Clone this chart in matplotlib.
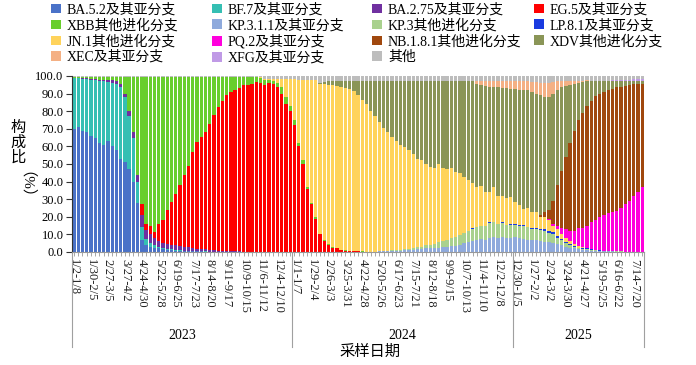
import numpy as np
import matplotlib
matplotlib.use("Agg")
from matplotlib import pyplot as plt
from matplotlib.patches import Patch
import matplotlib.transforms as mtransforms

plt.rcParams['font.family'] = ['Liberation Serif', 'Noto Sans CJK SC', 'DejaVu Sans']

# weekly composition (%), 2023-01-02 .. 2025-08-03, one value per week
ba52 = [70, 71, 69, 68, 66, 65, 62, 61, 63, 60, 58, 53, 51, 47, 40, 28, 7, 4, 3, 2.5,
        2, 1.5, 1.2, 1, 0.8, 0.6, 0.5, 0.4, 0.3, 0.3, 0.3, 0.2, 0.2, 0.1] + [0] * 101
bf7 = [28.7, 27.7, 29.5, 30.2, 31.9, 32.7, 35.2, 36, 33.8, 36.3, 37.5, 41, 37, 30.5, 24.5, 12,
       7, 3.5, 2, 1.5, 1, 0.8, 0.6, 0.5, 0.4, 0.3, 0.3, 0.2, 0.2, 0.1, 0.1, 0.1] + [0] * 103
ba275 = [0.3, 0.3, 0.5, 0.6, 0.6, 0.8, 0.8, 1, 1, 1.2, 1.5, 1.5, 2, 2.5, 3.5, 4, 7, 5, 5, 4,
         3, 3, 3, 2.5, 2.5, 2.5, 2.2, 2, 1.8, 1.5, 1.3, 1.2, 1, 0.8, 0.7, 0.6, 0.5, 0.4, 0.3, 0.3,
         0.2, 0.2, 0.2, 0.1, 0.1, 0.1, 0.1, 0.1, 0.1, 0.1] + [0] * 85
eg5 = [0] * 16 + [6, 3.5, 4.5, 3.5, 10, 12.7, 19.2, 24.4, 29.3, 34.6, 40.5, 46.4, 54.7, 60.6,
                  63.5, 66.5, 71.8, 76.7, 81.7, 85.4, 88.5, 90.6, 91.7, 92.7, 94.5, 94.8, 95.3,
                  96.5, 95.9, 94.9, 95.9, 95.5, 93.9, 89.9, 84, 80, 72, 60, 50, 36, 27, 19, 10,
                  6.5, 4, 2.5, 2, 1.2, 0.8, 0.5, 0.4, 0.3, 0.2] + [0] * 66
xbb = [0.2, 0.2, 0.2, 0.4, 0.7, 0.7, 1.2, 1.2, 1.4, 1.7, 2.2, 3.7, 9.2, 19.2, 31.2, 55.2,
       72.2, 83.2, 84.7, 87.7, 83.2, 81.2, 75.2, 70.8, 66.2, 61.2, 55.7, 50.2, 42.2, 36.7, 34,
       31.2, 26.2, 21.6, 16.8, 13.2, 10.2, 8.2, 7.2, 6.2, 4.5, 4.2, 3.7, 2.6, 2.9, 3, 1.5, 1.4,
       2, 4, 4, 3, 3, 2, 2, 1, 0.8, 0.6, 0.5, 0.4, 0.3, 0.3, 0.2, 0.2, 0.2, 0.2, 0.1, 0.1, 0.1,
       0.1, 0.1] + [0] * 64
kp311 = [0] * 71 + [0.2, 0.3, 0.4, 0.5, 0.6, 0.7, 0.8, 0.9, 1, 1.2, 1.5, 1.5, 2, 2, 2.2, 2.5,
                    3, 3, 3.5, 3.5, 4, 5, 5.5, 6, 7, 7.5, 7, 8, 8.5, 8, 8.5, 8, 8, 8.5, 8,
                    7.5, 7, 6.8, 6.6, 6.5, 5.8, 5.5, 5, 4.5, 3.8, 3, 2.2, 2, 1.5, 1.2, 1, 0.8,
                    0.6, 0.5, 0.4, 0.3, 0.3, 0.2, 0.2, 0.2, 0.1, 0.1, 0.1, 0.1]
kp3 = [0] * 73 + [0.2, 0.3, 0.4, 0.5, 0.6, 0.7, 0.8, 1, 1.2, 1.5, 1.8, 2, 2.5, 3, 3.5, 4, 4.5,
                  5, 5.5, 6, 6.5, 7, 7, 7.5, 8, 8.5, 8.5, 8, 8, 7.5, 7.5, 7, 7,
                  7.5, 7, 6.2, 6.4, 6, 6.2, 5.5, 5, 3.5, 2.8, 2, 1.8, 1, 0.7, 0.6, 0.5, 0.4,
                  0.3, 0.2, 0.2, 0.1, 0.1, 0.1, 0.1, 0, 0, 0, 0, 0]
lp81 = [0] * 94 + [0.5, 0, 0, 0, 0.5, 0, 0, 0.3, 0, 0.3, 0.4, 0.6,
                   0.5, 0.3, 0.8, 0.8, 0.3, 0.8, 0.8, 1.5, 1, 0.8, 0.5, 0.4, 0.3, 0.3, 0.3, 0.5,
                   0.3, 0.2, 0.2, 0.1, 0.1, 0.1, 0, 0, 0, 0, 0, 0, 0]
jn1 = [0] * 44 + [0.3, 0.5, 1, 1.5, 2.3, 4.3, 10.3, 15.3, 23.3,
                  36, 45.5, 60.5, 69.7, 77.9, 85, 88.6, 90.7, 92.2, 92.3, 92.6, 92, 91.8, 91, 88.6,
                  86.3, 83.9, 79.9, 77.3, 73.7, 69.9, 67.2, 64.5, 61.8, 59.6, 58,
                  56.2, 53.3, 50.3, 49, 46.2, 44.5, 43.3, 44.5, 41.5, 40, 39.5, 37, 35.2, 31.8, 29,
                  25.5, 23, 22.5, 19, 17, 20, 15.6, 14.8, 15, 15.7, 12.5, 10.9,
                  9.1, 10.7, 9.2, 8.7, 6.9, 7.2, 6.2, 3.5, 4, 2.6, 2.5, 1.6, 1.2, 1, 0.5, 0.3, 0.2,
                  0.2, 0.1, 0.1, 0.1, 0.1, 0.1, 0, 0, 0, 0, 0, 0]
pq2 = [0] * 112 + [0.8, 1, 2, 3.5, 5, 6, 7.5, 10, 10.9, 12.7, 15.3, 16.7, 19, 20.2, 21.4, 21.9,
                   23.1, 24.7, 26.8, 28.9, 31.9, 33.9, 36.9]
nb181 = [0] * 109 + [0.3, 1.5, 3, 5.2, 13, 23, 32.5, 41, 50, 57, 61.5, 65.5, 68, 69, 70.5, 70,
                     70, 70, 70.3, 70, 69, 67.5, 66, 63.2, 61.5, 58.5]
xdv = [0] * 58 + [0.5, 1, 2, 2, 2.5, 3, 4, 4.5, 5.5, 8, 10.4, 13, 17, 19.5, 23, 26.5, 29, 31.5,
                  34, 36, 37.4, 39, 41.5, 44, 45, 47, 48.5, 49, 47, 49, 50, 49.5, 51.5, 52.3,
                  54.2, 56, 58, 58.5, 57.5, 60.5, 60, 57, 61.9, 61.4, 62.5, 61, 64.1, 65.5,
                  67.4, 67, 68, 67.2, 67.8, 65, 64, 61, 54, 48, 40.5, 33, 26.5, 21, 17.5, 14, 11,
                  8.5, 7, 6, 5, 4.2, 3.5, 3, 2.5, 2, 1.8, 1.5, 1.5]
xec = [0] * 95 + [1.5, 2, 2.5, 3, 3, 3.5, 4, 4, 4.5, 4.5, 5,
                  5, 5, 5.5, 6.5, 7, 8, 8, 6.5, 5, 3, 2.5, 2, 1.5, 1, 0.8, 0.5, 0.4, 0.3, 0.3,
                  0.2, 0.2, 0.2, 0.1, 0.1, 0.1, 0.1, 0.1, 0.1, 0.1]
xfg = [0] * 126 + [0.2, 0.3, 0.4, 0.5, 0.6, 0.8, 1, 1, 1.2]
other = ([0.8] * 45 + [1.5, 1.5, 1.5, 1.7, 1.7, 1.7, 1.7, 1.7, 2, 2.5, 2.5, 2.5, 2.5, 4, 3.5]
         + [3] * 46 + [3, 3, 3.5, 3.5, 4, 4, 4, 3.5, 3, 3, 3, 3, 3, 3, 2.7, 2.5, 2.6, 2.7, 2.7,
                       2.8, 2.6, 2.5, 2.5, 2.4, 2.3, 2.1, 1.9, 1.9, 1.7])

names = ['BA.5.2及其亚分支', 'BF.7及其亚分支', 'BA.2.75及其亚分支', 'EG.5及其亚分支',
         'XBB其他进化分支', 'KP.3.1.1及其亚分支', 'KP.3其他进化分支', 'LP.8.1及其亚分支',
         'JN.1其他进化分支', 'PQ.2及其亚分支', 'NB.1.8.1其他进化分支', 'XDV其他进化分支',
         'XEC及其亚分支', 'XFG及其亚分支', '其他']
series = [ba52, bf7, ba275, eg5, xbb, kp311, kp3, lp81, jn1, pq2, nb181, xdv, xec, xfg, other]
colors = ['#4A72C8', '#35BFB3', '#7030A0', '#FF0000', '#68CE2C', '#8FAADC', '#A9D18E',
          '#1A3BE0', '#FFD35B', '#FF00DD', '#A0480E', '#8A9557', '#F4B084', '#C09AE6', '#BDBDBD']

week_labels = ['1/2-1/8', '1/30-2/5', '2/27-3/5', '3/27-4/2', '4/24-4/30', '5/22-5/28',
               '6/19-6/25', '7/17-7/23', '8/14-8/20', '9/11-9/17', '10/9-10/15', '11/6-11/12',
               '12/4-12/10', '1/1-1/7', '1/29-2/4', '2/26-3/3', '3/25-3/31', '4/22-4/28',
               '5/20-5/26', '6/17-6/23', '7/15-7/21', '8/12-8/18', '9/9-9/15', '10/7-10/13',
               '11/4-11/10', '12/2-12/8', '12/30-1/5', '1/27-2/2', '2/24-3/2', '3/24-3/30',
               '4/21-4/27', '5/19-5/25', '6/16-6/22', '7/14-7/20']
years = ['2023', '2024', '2025']
weeks_per_year = [52, 52, 31]

n = len(ba52)
x = np.arange(n)

fig = plt.figure(figsize=(6.96, 3.65), dpi=100)
ax = fig.add_axes([0.1033, 0.3096, 0.8224, 0.4822])

bottom = np.zeros(n)
for vals, c in zip(series, colors):
    vals = np.array(vals, dtype=float)
    ax.bar(x, vals, width=0.78, bottom=bottom, color=c, linewidth=0)
    bottom += vals

ax.set_xlim(-0.5, n - 0.5)
ax.set_ylim(0, 100)
yt = np.arange(0, 101, 10)
ax.set_yticks(yt)
ax.set_yticklabels(['%.1f' % v for v in yt], fontsize=9)
ax.tick_params(axis='y', length=4, width=0.8, color='#333333', pad=2)

labels = [''] * n
for k, lab in enumerate(week_labels):
    labels[k * 4] = lab
ax.set_xticks(x)
ax.set_xticklabels(labels, rotation=270, fontsize=9, color='#222222')
ax.tick_params(axis='x', length=3, width=0.6, color='#999999', pad=2)

for s in ['top', 'right']:
    ax.spines[s].set_visible(False)
ax.spines['left'].set_color('#333333')
ax.spines['bottom'].set_color('#999999')

# year grouping under the week labels
trans = mtransforms.blended_transform_factory(ax.transData, ax.transAxes)
start = 0
edges = [-0.5]
for yr, cnt in zip(years, weeks_per_year):
    mid = start + (cnt - 1) / 2
    ax.text(mid, -0.475, yr, transform=trans, ha='center', va='center', fontsize=10)
    start += cnt
    edges.append(start - 0.5)
for e in edges:
    ax.plot([e, e], [0, -0.54], transform=trans, color='#A0A0A0', lw=0.8, clip_on=False)

fig.text(370 / 696, 1 - 352 / 365, '采样日期', ha='center', va='center', fontsize=11)
fig.text(18 / 696, 1 - 143 / 365, '构\n成\n比', ha='center', va='center', fontsize=11,
         linespacing=1.05)
fig.text(18 / 696, 1 - 193 / 365, '（%）', ha='center', va='center', fontsize=11, rotation=270)

# legend: four columns, filled row by row
handles = [Patch(facecolor=c, edgecolor='none') for c in colors]
col_x = [51, 212, 372, 534]
for j in range(4):
    idx = list(range(j, len(names), 4))
    fig.legend([handles[i] for i in idx], [names[i] for i in idx],
               loc='upper left', bbox_to_anchor=(col_x[j] / 696, 1 - 3 / 365),
               frameon=False, fontsize=10, borderpad=0, borderaxespad=0,
               handlelength=0.7, handleheight=0.7, handletextpad=0.45, labelspacing=0.16)

fig.savefig('out.png', dpi=100)
